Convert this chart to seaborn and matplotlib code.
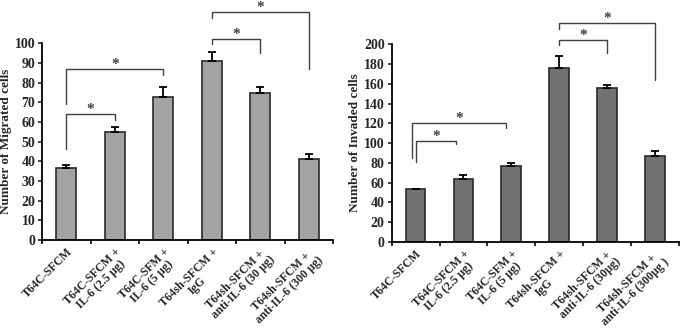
import numpy as np
import pandas as pd
import matplotlib
matplotlib.use("Agg")
import matplotlib.pyplot as plt
import seaborn as sns

sns.set_style("ticks")
plt.rcParams["font.family"] = ["Liberation Serif", "DejaVu Serif"]
plt.rcParams["font.weight"] = "bold"

# 데이터
labels_mig = ["T64C-SFCM", "T64C-SFCM +\nIL-6 (2.5 µg)", "T64C-SFM +\nIL-6 (5 µg)",
              "T64sh-SFCM +\nIgG", "T64sh-SFCM +\nanti-IL-6 (30 µg)",
              "T64sh-SFCM +\nanti-IL-6 (300 µg)"]
migrated = [36.5, 55, 72.5, 91, 74.5, 41]
migrated_err = [1.5, 2.5, 5, 4.5, 3, 2.5]

labels_inv = ["T64C-SFCM", "T64C-SFCM +\nIL-6 (2.5 µg)", "T64C-SFM +\nIL-6 (5 µg)",
              "T64sh-SFCM +\nIgG", "T64sh-SFCM +\nanti-IL-6 (30µg)",
              "T64sh-SFCM +\nanti-IL-6 (300µg )"]
invaded = [53.5, 63.5, 77, 175.5, 155.5, 87]
invaded_err = [0, 4.5, 3, 13, 3, 5.5]

# 유의성 표시: (왼쪽 막대, 오른쪽 막대, 가로선 높이, 왼쪽 다리 끝, 오른쪽 다리 끝)
brackets_mig = [(0, 1, 64, 46, 61), (0, 2, 87, 69, 84),
                (3, 4, 102, 99.5, 95), (3, 5, 116, 113, 87)]
brackets_inv = [(0, 0.85, 102, 81, 99), (-0.08, 1.9, 120, 85, 115),
                (3, 4, 204, 199, 191), (3, 5, 221, 215, 164)]

fig = plt.figure(figsize=(6.8, 3.32), dpi=100)
ax1 = fig.add_axes([0.062, 0.277, 0.428, 0.593])
ax2 = fig.add_axes([0.576, 0.271, 0.422, 0.596])

panels = [
    (ax1, labels_mig, migrated, migrated_err, "#a3a3a3", 100, 10,
     "Number of Migrated cells", brackets_mig),
    (ax2, labels_inv, invaded, invaded_err, "#727272", 200, 20,
     "Number of Invaded cells", brackets_inv),
]

for ax, labels, vals, errs, color, ymax, step, ylabel, brackets in panels:
    df = pd.DataFrame({"group": labels, "value": vals})
    sns.barplot(data=df, x="group", y="value", color=color, width=0.41,
                edgecolor="#2a2a2a", linewidth=1.2, saturation=1, ax=ax)
    x = np.arange(len(vals))
    ax.errorbar(x, vals, yerr=[np.zeros(len(errs)), errs], fmt="none",
                ecolor="black", elinewidth=1.3, capsize=3, capthick=1.3)
    ax.set_ylim(0, ymax)
    ax.set_xlim(-0.5, len(vals) - 0.5)
    ax.set_yticks(np.arange(0, ymax + 1, step))
    ax.set_ylabel(ylabel, fontsize=9.5, fontweight="bold", labelpad=2)
    ax.set_xlabel("")
    ax.set_xticks(x)
    ax.set_xticklabels(labels, rotation=45, ha="right", rotation_mode="anchor",
                       multialignment="center", fontsize=8.5,
                       fontweight="bold", linespacing=0.95)
    ax.tick_params(axis="x", length=0, pad=4)
    ax.set_xticks(np.arange(-0.5, len(vals), 1), minor=True)
    ax.tick_params(axis="x", which="minor", length=3, width=1.2, color="black")
    ax.tick_params(axis="y", length=3, width=1.2, labelsize=10, pad=2)
    for t in ax.get_yticklabels():
        t.set_fontweight("bold")
    sns.despine(ax=ax)
    for s in ["left", "bottom"]:
        ax.spines[s].set_linewidth(1.3)
        ax.spines[s].set_color("black")

    for a, b, h, la, lb in brackets:
        ax.plot([a, a, b, b], [la, h, h, lb], color="#404040", lw=1.0,
                clip_on=False)
        ax.text((a + b) / 2, h - ymax * 0.01, "*", ha="center", va="bottom",
                fontsize=11, color="#404040", clip_on=False)

fig.savefig("out.png", dpi=100)
